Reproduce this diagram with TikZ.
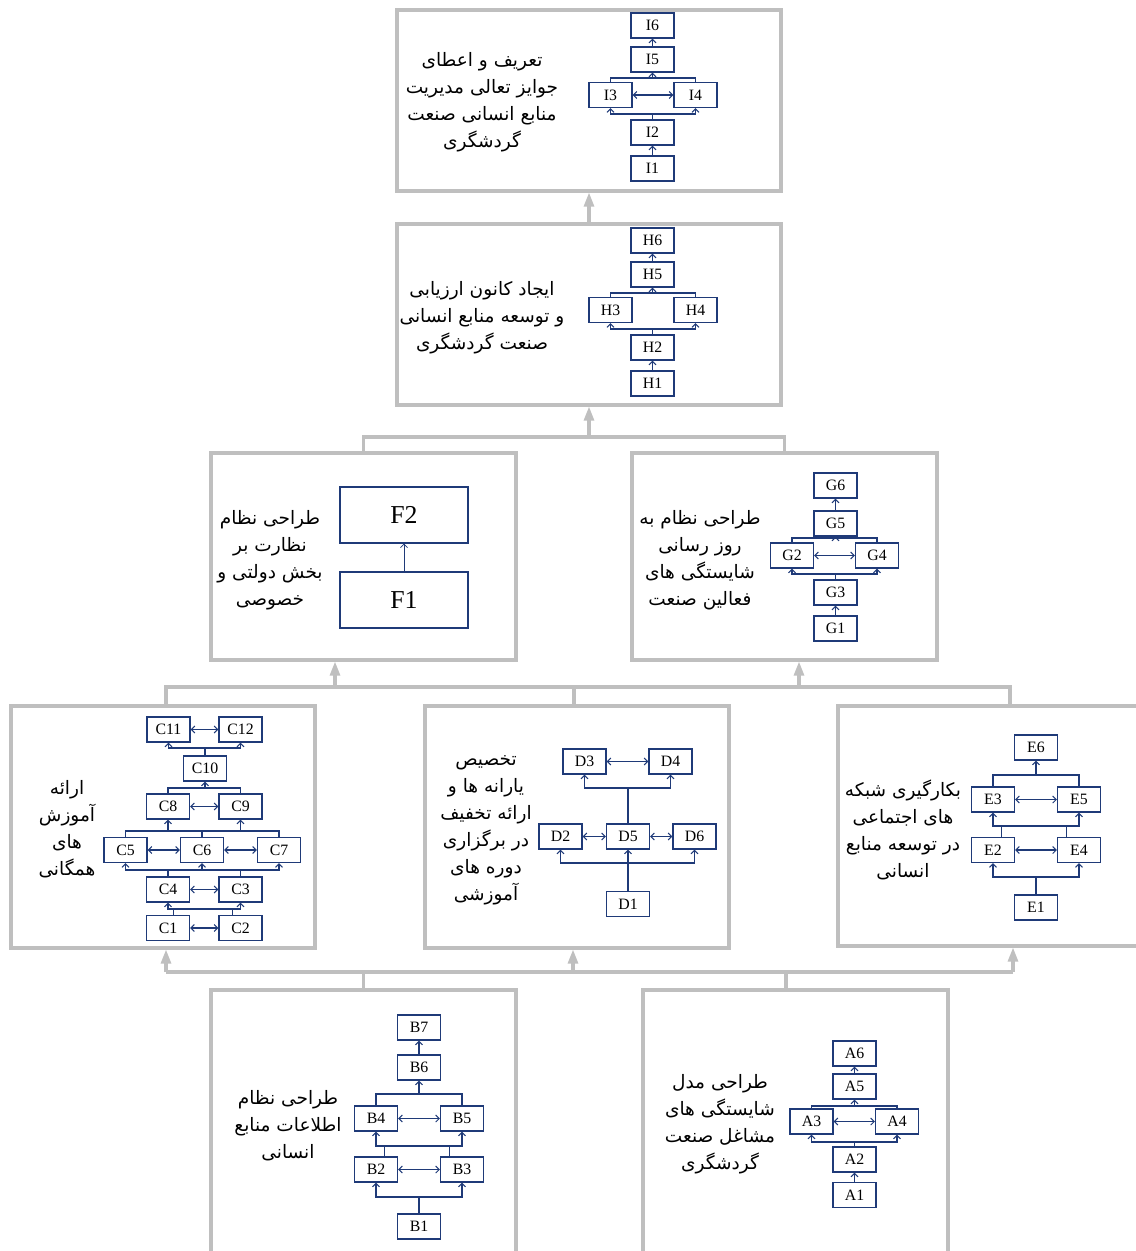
\documentclass[tikz,border=0pt]{standalone}
\usepackage{fontspec}
\usepackage{xcolor}
\usepackage{tikz}
\usetikzlibrary{arrows.meta}
\setmainfont{Liberation Serif}
\newfontfamily\arabicfont[Script=Arabic]{DejaVu Sans}
\TeXXeTstate=1
\definecolor{navy}{HTML}{1F3A78}
\definecolor{panelgrey}{HTML}{BFBFBF}
\newcommand{\fatext}[1]{\beginR #1\endR}

\begin{document}
\begin{tikzpicture}[x=0.03cm,y=-0.03cm,
  panel/.style={draw=panelgrey,line width=2.6pt,inner sep=0pt},
  gline/.style={draw=panelgrey,line width=2.6pt},
  garrow/.style={gline,-{Triangle[length=12pt,width=8.5pt]}},
  sb/.style={draw=navy,line width=0.9pt,minimum width=1.29cm,minimum height=0.75cm,inner sep=0pt,font=\fontsize{13.5}{13.5}\selectfont},
  fb/.style={draw=navy,line width=0.9pt,minimum width=3.84cm,minimum height=1.68cm,inner sep=0pt,font=\fontsize{22}{22}\selectfont},
  nl/.style={draw=navy,line width=0.9pt},
  na/.style={nl,-{Straight Barb[length=3pt,width=6pt]}},
  nd/.style={nl,{Straight Barb[length=3pt,width=6pt]}-{Straight Barb[length=3pt,width=6pt]}},
  fa/.style={align=center,inner sep=0pt,font=\arabicfont\fontsize{15.8}{23}\selectfont}]

\useasboundingbox (0,0) rectangle (1135,1251);

% Panels
\node[panel,minimum width=11.52cm,minimum height=5.43cm] (pI) at (589,100.5) {};
\node[panel,minimum width=11.52cm,minimum height=5.43cm] (pH) at (589,314.5) {};
\node[panel,minimum width=9.15cm,minimum height=6.21cm] (pF) at (363.5,556.5) {};
\node[panel,minimum width=9.15cm,minimum height=6.21cm] (pG) at (784.5,556.5) {};
\node[panel,minimum width=9.12cm,minimum height=7.26cm] (pC) at (163,827) {};
\node[panel,minimum width=9.12cm,minimum height=7.26cm] (pD) at (577,827) {};
\node[panel,minimum width=9.15cm,minimum height=7.2cm] (pE) at (990.5,826) {};
\node[panel,minimum width=9.15cm,minimum height=8.4cm] (pB) at (363.5,1130) {};
\node[panel,minimum width=9.15cm,minimum height=8.4cm] (pA) at (795.5,1130) {};

% Grey links between panels
\coordinate (jFG) at (589,437);
\draw[garrow] (pH.north) -- (pI.south);
\draw[gline] (pF.north) |- (jFG) -| (pG.north);
\draw[garrow] (jFG) -- (pH.south);

\coordinate (mC) at (166,687);
\coordinate (mD) at (574,687);
\coordinate (mE) at (1010,687);
\coordinate (mF) at (335,687);
\coordinate (mG) at (799,687);
\draw[gline] (mC |- pC.north) -- (mC) -- (mE) -- (mE |- pE.north);
\draw[gline] (mD) -- (mD |- pD.north);
\draw[garrow] (mF) -- (mF |- pF.south);
\draw[garrow] (mG) -- (mG |- pG.south);

\coordinate (bC) at (166,972);
\coordinate (bD) at (573,972);
\coordinate (bE) at (1013,972);
\coordinate (bB) at (363.5,972);
\coordinate (bA) at (786,972);
\draw[gline] (bC) -- (bE);
\draw[garrow] (bC) -- (bC |- pC.south);
\draw[garrow] (bD) -- (bD |- pD.south);
\draw[garrow] (bE) -- (bE |- pE.south);
\draw[gline] (bB) -- (pB.north);
\draw[gline] (bA) -- (bA |- pA.north);

% Panel I
\node[fa] (tI) at (482,102) {\fatext{تعریف و اعطای}\\\fatext{جوایز تعالی مدیریت}\\\fatext{منابع انسانی صنعت}\\\fatext{گردشگری}};
\node[sb] (I6) at (652.5,25.5) {I6};
\node[sb] (I5) at (652.5,59.5) {I5};
\node[sb] (I3) at (610.5,95) {I3};
\node[sb] (I4) at (695.5,95) {I4};
\node[sb] (I2) at (652.5,132.5) {I2};
\node[sb] (I1) at (652.5,168.5) {I1};
\coordinate (iLo) at (652.5,114);
\coordinate (iHi) at (652.5,78);
\draw[na] (I1) -- (I2);
\draw[nl] (I2.north) -- (iLo);
\draw[na] (iLo) -| (I3.south);
\draw[na] (iLo) -| (I4.south);
\draw[nd] (I3) -- (I4);
\draw[nl] (I3.north) |- (iHi);
\draw[nl] (I4.north) |- (iHi);
\draw[na] (iHi) -- (I5);
\draw[na] (I5) -- (I6);

% Panel H
\node[fa] (tH) at (482,318) {\fatext{ایجاد کانون ارزیابی}\\\fatext{و توسعه منابع انسانی}\\\fatext{صنعت گردشگری}};
\node[sb] (H6) at (652.5,240.5) {H6};
\node[sb] (H5) at (652.5,274.5) {H5};
\node[sb] (H3) at (610.5,310) {H3};
\node[sb] (H4) at (695.5,310) {H4};
\node[sb] (H2) at (652.5,347.5) {H2};
\node[sb] (H1) at (652.5,383.5) {H1};
\coordinate (hLo) at (652.5,329);
\coordinate (hHi) at (652.5,293);
\draw[na] (H1) -- (H2);
\draw[nl] (H2.north) -- (hLo);
\draw[na] (hLo) -| (H3.south);
\draw[na] (hLo) -| (H4.south);
\draw[nl] (H3.north) |- (hHi);
\draw[nl] (H4.north) |- (hHi);
\draw[na] (hHi) -- (H5);
\draw[na] (H5) -- (H6);

% Panel F
\node[fa] (tF) at (270,560) {\fatext{طراحی نظام}\\\fatext{نظارت بر}\\\fatext{بخش دولتی و}\\\fatext{خصوصی}};
\node[fb] (F2) at (404,515) {F2};
\node[fb] (F1) at (404,600) {F1};
\draw[na,line width=0.6pt] (F1) -- (F2);

% Panel G
\node[fa] (tG) at (700,560) {\fatext{طراحی نظام به}\\\fatext{روز رسانی}\\\fatext{شایستگی های}\\\fatext{فعالین صنعت}};
\node[sb] (G6) at (835.5,485.5) {G6};
\node[sb] (G5) at (835.5,523.5) {G5};
\node[sb] (G2) at (792,555.5) {G2};
\node[sb] (G4) at (877,555.5) {G4};
\node[sb] (G3) at (835.5,592.5) {G3};
\node[sb] (G1) at (835.5,628.5) {G1};
\coordinate (gLo) at (835.5,574);
\coordinate (gHi) at (835.5,538);
\draw[na] (G1) -- (G3);
\draw[nl] (G3.north) -- (gLo);
\draw[na] (gLo) -| (G2.south);
\draw[na] (gLo) -| (G4.south);
\draw[nd] (G2) -- (G4);
\draw[nl] (G2.north) |- (gHi);
\draw[nl] (G4.north) |- (gHi);
\draw[na] (gHi) -- (G5);
\draw[na] (G5) -- (G6);

% Panel C
\node[fa] (tC) at (67,829) {\fatext{ارائه}\\\fatext{آموزش}\\\fatext{های}\\\fatext{همگانی}};
\node[sb] (C11) at (168.5,729.5) {C11};
\node[sb] (C12) at (240.5,729.5) {C12};
\node[sb] (C10) at (205,768.5) {C10};
\node[sb] (C8) at (168,806.5) {C8};
\node[sb] (C9) at (240.5,806.5) {C9};
\node[sb] (C5) at (125.5,850) {C5};
\node[sb] (C6) at (202,850) {C6};
\node[sb] (C7) at (279,850) {C7};
\node[sb] (C4) at (168,889.5) {C4};
\node[sb] (C3) at (240.5,889.5) {C3};
\node[sb] (C1) at (168,928) {C1};
\node[sb] (C2) at (240.5,928) {C2};
\coordinate (c1) at (204,909);
\coordinate (c2) at (204,870);
\coordinate (c3) at (204,831);
\coordinate (c4) at (204,788);
\coordinate (c5) at (205,748);
\draw[nd] (C1) -- (C2);
\draw[nl] ([xshift=5pt]C1.north) |- (c1);
\draw[nl] ([xshift=-7pt]C2.north) |- (c1);
\draw[na] (c1) -| (C4.south);
\draw[na] (c1) -| (C3.south);
\draw[nd] (C4) -- (C3);
\draw[nl] (C4.north) |- (c2);
\draw[nl] (C3.north) |- (c2);
\draw[na] (c2) -| (C5.south);
\draw[na] (c2) -| (C7.south);
\draw[na] (c2 -| C6.south) -- (C6.south);
\draw[nd] (C5) -- (C6);
\draw[nd] (C6) -- (C7);
\draw[nl] (C5.north) |- (c3);
\draw[nl] (C7.north) |- (c3);
\draw[nl] (C6.north) -- (c3 -| C6.north);
\draw[na] (c3) -| (C8.south);
\draw[na] (c3) -| (C9.south);
\draw[nd] (C8) -- (C9);
\draw[nl] (C8.north) |- (c4);
\draw[nl] (C9.north) |- (c4);
\draw[na] (c4 -| C10.south) -- (C10.south);
\draw[nl] (C10.north) -- (c5);
\draw[na] (c5) -| (C11.south);
\draw[na] (c5) -| (C12.south);
\draw[nd] (C11) -- (C12);

% Panel D
\node[fa] (tD) at (486,830) {\fatext{تخصیص}\\\fatext{یارانه ها و}\\\fatext{ارائه تخفیف}\\\fatext{در برگزاری}\\\fatext{دوره های}\\\fatext{آموزشی}};
\node[sb] (D3) at (584.5,761.5) {D3};
\node[sb] (D4) at (670.5,761.5) {D4};
\node[sb] (D2) at (560.5,836.5) {D2};
\node[sb] (D5) at (628,836.5) {D5};
\node[sb] (D6) at (694.5,836.5) {D6};
\node[sb] (D1) at (628,904) {D1};
\coordinate (dLo) at (628,863);
\coordinate (dHi) at (628,788);
\draw[na] (D1) -- (D5);
\draw[na] (dLo) -| (D2.south);
\draw[na] (dLo) -| (D6.south);
\draw[nd] (D2) -- (D5);
\draw[nd] (D5) -- (D6);
\draw[nl] (D5.north) -- (dHi);
\draw[na] (dHi) -| (D3.south);
\draw[na] (dHi) -| (D4.south);
\draw[nd] (D3) -- (D4);

% Panel E
\node[fa] (tE) at (903,830) {\fatext{بکارگیری شبکه}\\\fatext{های اجتماعی}\\\fatext{در توسعه منابع}\\\fatext{انسانی}};
\node[sb] (E6) at (1036,747.5) {E6};
\node[sb] (E3) at (993,799.5) {E3};
\node[sb] (E5) at (1079,799.5) {E5};
\node[sb] (E2) at (993,850) {E2};
\node[sb] (E4) at (1079,850) {E4};
\node[sb] (E1) at (1036,907.5) {E1};
\coordinate (eLo) at (1036,877);
\coordinate (eMid) at (1036,826);
\coordinate (eHi) at (1036,775);
\draw[nl] (E1.north) -- (eLo);
\draw[na] (eLo) -| (E2.south);
\draw[na] (eLo) -| (E4.south);
\draw[nd] (E2) -- (E4);
\draw[nl] ([xshift=7.5pt]E2.north) |- (eMid);
\draw[nl] ([xshift=-11pt]E4.north) |- (eMid);
\draw[na] (eMid) -| (E3.south);
\draw[na] (eMid) -| (E5.south);
\draw[nd] (E3) -- (E5);
\draw[nl] (E3.north) |- (eHi);
\draw[nl] (E5.north) |- (eHi);
\draw[na] (eHi) -- (E6);

% Panel B
\node[fa] (tB) at (288,1126) {\fatext{طراحی نظام}\\\fatext{اطلاعات منابع}\\\fatext{انسانی}};
\node[sb] (B7) at (419,1027.5) {B7};
\node[sb] (B6) at (419,1067.5) {B6};
\node[sb] (B4) at (376,1118.5) {B4};
\node[sb] (B5) at (462,1118.5) {B5};
\node[sb] (B2) at (376,1169.5) {B2};
\node[sb] (B3) at (462,1169.5) {B3};
\node[sb] (B1) at (419,1226.5) {B1};
\coordinate (bLo) at (419,1197);
\coordinate (bMid) at (419,1146);
\coordinate (bHi) at (419,1094);
\draw[nl] (B1.north) -- (bLo);
\draw[na] (bLo) -| (B2.south);
\draw[na] (bLo) -| (B3.south);
\draw[nd] (B2) -- (B3);
\draw[nl] ([xshift=7.5pt]B2.north) |- (bMid);
\draw[nl] ([xshift=-11pt]B3.north) |- (bMid);
\draw[na] (bMid) -| (B4.south);
\draw[na] (bMid) -| (B5.south);
\draw[nd] (B4) -- (B5);
\draw[nl] (B4.north) |- (bHi);
\draw[nl] (B5.north) |- (bHi);
\draw[na] (bHi) -- (B6);
\draw[na] (B6) -- (B7);

% Panel A
\node[fa] (tA) at (720,1124) {\fatext{طراحی مدل}\\\fatext{شایستگی های}\\\fatext{مشاغل صنعت}\\\fatext{گردشگری}};
\node[sb] (A6) at (854.5,1053.5) {A6};
\node[sb] (A5) at (854.5,1086.5) {A5};
\node[sb] (A3) at (811.5,1121.5) {A3};
\node[sb] (A4) at (897,1121.5) {A4};
\node[sb] (A2) at (854.5,1159.5) {A2};
\node[sb] (A1) at (854.5,1195) {A1};
\coordinate (aLo) at (854.5,1142);
\coordinate (aHi) at (854.5,1106);
\draw[na] (A1) -- (A2);
\draw[nl] (A2.north) -- (aLo);
\draw[na] (aLo) -| (A3.south);
\draw[na] (aLo) -| (A4.south);
\draw[nd] (A3) -- (A4);
\draw[nl] (A3.north) |- (aHi);
\draw[nl] (A4.north) |- (aHi);
\draw[na] (aHi) -- (A5);
\draw[na] (A5) -- (A6);

\end{tikzpicture}
\end{document}
